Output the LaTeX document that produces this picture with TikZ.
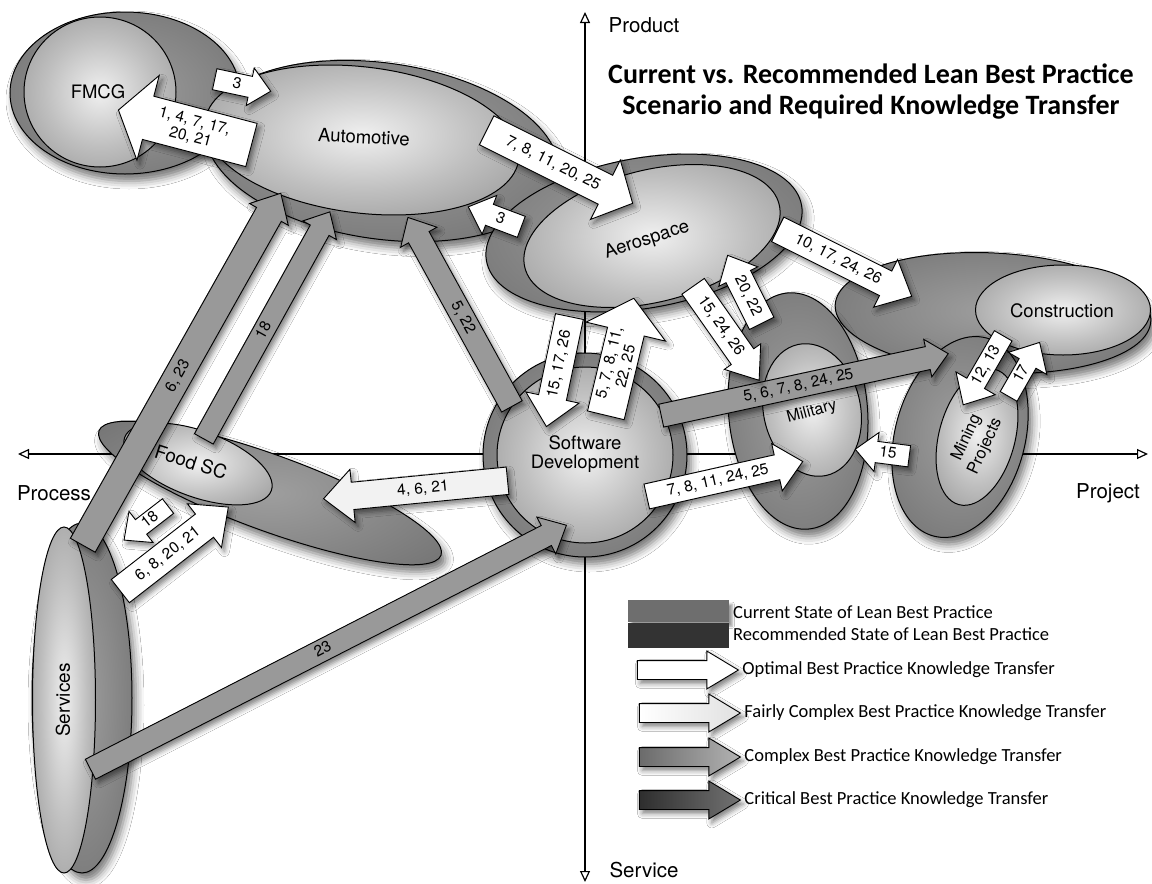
\documentclass[tikz,border=0pt]{standalone}
\usepackage{fontspec}
\setmainfont{TeX Gyre Heros}
\newfontfamily\calfont{Carlito}
\usepackage{tikz}
\usetikzlibrary{arrows.meta,shapes.arrows,shapes.geometric,shadows.blur,positioning,calc}

\pgfdeclareradialshading{curshade}{\pgfpoint{0bp}{0bp}}{color(0bp)=(black!6); color(18bp)=(black!25); color(50bp)=(black!55); color(100bp)=(black!55)}
\pgfdeclareradialshading{recshade}{\pgfpoint{0bp}{0bp}}{color(0bp)=(black!38); color(34bp)=(black!55); color(50bp)=(black!80); color(100bp)=(black!80)}

\tikzset{
  sector/.style={ellipse, draw, line width=1pt, inner sep=0pt},
  recstate/.style={sector, shading=recshade, blur shadow={shadow xshift=4pt, shadow yshift=-7pt, shadow blur radius=8pt, shadow opacity=55}},
  curstate/.style={sector, shading=curshade},
  sectorname/.style={font=\fontsize{18.5}{19}\selectfont, align=center},
  axisname/.style={font=\fontsize{20.5}{22}\selectfont},
  karrow/.style={single arrow, draw, line width=0.9pt, single arrow tip angle=85, single arrow head indent=0pt,
    inner xsep=3pt, text height=11pt, text depth=2.5pt, font=\fontsize{15.5}{16.5}\selectfont, align=center,
    blur shadow={shadow xshift=3pt, shadow yshift=-4pt, shadow blur radius=5pt, shadow opacity=50}},
  optimal/.style={karrow, fill=white},
  fairly/.style={karrow, fill=black!5},
  complex/.style={karrow, fill=black!40},
  critical/.style={karrow, fill=black!72},
  flip/.style={rotate=180, shape border rotate=180},
  twoline/.style={text height=, text depth=},
  legarrow/.style={minimum height=101, inner ysep=9pt, text height=0pt, text depth=0pt,
    single arrow head extend=9.5pt, single arrow tip angle=62},
  legtext/.style={font=\calfont\fontsize{18.5}{20}\selectfont, anchor=west, inner sep=0pt},
}

\newcommand\transfer[5][]{%
  \path let \p1=(#3), \p2=(#4), \n1={atan2(\y2-\y1,\x2-\x1)}, \n2={veclen(\x2-\x1,\y2-\y1)} in
    node[#1, rotate=\n1, minimum height=\n2] (#2) at ($(\p1)!.5!(\p2)$) {#5};}

\begin{document}
\begin{tikzpicture}[x=1pt, y=1pt]
  \path[use as bounding box, fill=white] (0,0) rectangle (1152,-884);

  \coordinate (w) at (18,-454);
  \coordinate (e) at (1148,-454);
  \coordinate (n) at (585,-12);
  \coordinate (s) at (585,-882);
  \draw[<->, >={Triangle[open, length=11pt, width=10pt]}, line width=1.2pt] (w) -- (e);
  \draw[<->, >={Triangle[open, length=11pt, width=10pt]}, line width=1.2pt] (n) -- (s);
  \node[axisname] (product) at (644,-25) {Product};
  \node[axisname] (service) at (644,-870) {Service};
  \node[axisname] (process) at (54,-493) {Process};
  \node[axisname] (project) at (1108,-493) {Project};

  \node[recstate, minimum width=230, minimum height=162] (fmcgr) at (125,-93) {};
  \node[curstate, minimum width=152, minimum height=150] (fmcgc) at (100,-92) {};
  \node[recstate, minimum width=100, minimum height=350] (servr) at (82,-698) {};
  \node[curstate, minimum width=63, minimum height=346] (servc) at (64,-700) {};
  \node[recstate, minimum width=364, minimum height=76, rotate=-20] (foodr) at (270,-493) {};
  \node[curstate, minimum width=156, minimum height=66, rotate=-20] (foodc) at (198,-464) {};
  \node[recstate, minimum width=356, minimum height=176, rotate=-8] (autor) at (382,-151) {};
  \node[curstate, minimum width=316, minimum height=146, rotate=-7] (autoc) at (362,-140) {};
  \node[recstate, minimum width=316, minimum height=120, rotate=-3] (consr) at (993,-313) {};
  \node[curstate, minimum width=175, minimum height=90] (consc) at (1063,-310) {};
  \node[recstate, minimum width=139, minimum height=237, rotate=5] (milr) at (798,-411) {};
  \node[curstate, minimum width=97, minimum height=134, rotate=12] (milc) at (812,-410) {};
  \node[recstate, minimum width=130, minimum height=205, rotate=-15] (miner) at (960,-437) {};
  \node[curstate, minimum width=76, minimum height=140, rotate=-15] (minec) at (977,-437) {};
  \node[recstate, minimum width=320, minimum height=150, rotate=10] (aeror) at (644,-233) {};
  \node[curstate, minimum width=262, minimum height=132, rotate=14] (aeroc) at (652,-236) {};
  \node[recstate, circle, minimum size=204] (softr) at (585,-455) {};
  \node[curstate, circle, minimum size=176] (softc) at (585,-455) {};

  \node[sectorname] (fmcg) at (98,-92) {FMCG};
  \node[sectorname, rotate=-3] (auto) at (364,-137) {Automotive};
  \node[sectorname, rotate=18] (aero) at (647,-240) {Aerospace};
  \node[sectorname] (cons) at (1062,-311) {Construction};
  \node[sectorname, font=\fontsize{16}{17}\selectfont, rotate=15] (mil) at (812,-412) {Military};
  \node[sectorname, font=\fontsize{16.5}{20.5}\selectfont, rotate=65] (mine) at (976,-442) {Mining\\Projects};
  \node[sectorname] (soft) at (585,-454) {Software\\Development};
  \node[sectorname, font=\fontsize{19}{20}\selectfont, rotate=-18] (food) at (191,-462) {Food SC};
  \node[sectorname, font=\fontsize{19}{20}\selectfont, rotate=90] (serv) at (63,-700) {Services};

  \coordinate (s1) at (209,-78);   \coordinate (e1) at (265,-90);
  \coordinate (s2) at (259,-147);  \coordinate (e2) at (126,-112);
  \coordinate (s3) at (480,-127);  \coordinate (e3) at (626,-200);
  \coordinate (s4) at (527,-229);  \coordinate (e4) at (474,-209);
  \coordinate (s5) at (771,-226);  \coordinate (e5) at (905,-293);
  \coordinate (s6) at (688,-279);  \coordinate (e6) at (754,-373);
  \coordinate (s7) at (765,-330);  \coordinate (e7) at (731,-262);
  \coordinate (s8) at (571,-309);  \coordinate (e8) at (548,-419);
  \coordinate (s9) at (604,-423);  \coordinate (e9) at (632,-306);
  \coordinate (s10) at (515,-412); \coordinate (e10) at (411,-223);
  \coordinate (s11) at (201,-444); \coordinate (e11) at (327,-217);
  \coordinate (s12) at (79,-552);  \coordinate (e12) at (277,-200);
  \coordinate (s13) at (515,-480); \coordinate (e13) at (331,-498);
  \coordinate (s14) at (172,-503); \coordinate (e14) at (128,-537);
  \coordinate (s15) at (114,-596); \coordinate (e15) at (222,-512);
  \coordinate (s16) at (85,-772);  \coordinate (e16) at (561,-528);
  \coordinate (s17) at (655,-417); \coordinate (e17) at (942,-355);
  \coordinate (s18) at (640,-498); \coordinate (e18) at (796,-463);
  \coordinate (s19) at (915,-457); \coordinate (e19) at (861,-450);
  \coordinate (s20) at (1006,-331); \coordinate (e20) at (966,-400);
  \coordinate (s21) at (1006,-401); \coordinate (e21) at (1037,-347);

  \transfer[complex, inner ysep=4.5pt, single arrow head extend=9pt, flip]{k10}{s10}{e10}{5, 22}
  \transfer[complex, inner ysep=3.5pt, single arrow head extend=8.5pt]{k11}{s11}{e11}{18}
  \transfer[complex, inner ysep=7pt, single arrow head extend=8pt]{k12}{s12}{e12}{6, 23}
  \transfer[complex, inner ysep=4pt, single arrow head extend=9.5pt]{k16}{s16}{e16}{23}
  \transfer[complex, inner ysep=4.5pt, single arrow head extend=7.5pt]{k17}{s17}{e17}{5, 6, 7, 8, 24, 25}
  \transfer[fairly, inner ysep=6.5pt, single arrow head extend=13pt, flip]{k13}{s13}{e13}{4, 6, 21}
  \transfer[optimal, inner ysep=3.5pt, single arrow head extend=8.5pt]{k1}{s1}{e1}{3}
  \transfer[optimal, twoline, inner ysep=7pt, single arrow head extend=21.5pt, single arrow tip angle=110, flip]{k2}{s2}{e2}{1, 4, 7, 17,\\20, 21}
  \transfer[optimal, inner ysep=9pt, single arrow head extend=17pt, single arrow tip angle=95]{k3}{s3}{e3}{7, 8, 11, 20, 25}
  \transfer[optimal, inner ysep=4pt, single arrow head extend=9.5pt, flip]{k4}{s4}{e4}{3}
  \transfer[optimal, inner ysep=6.5pt, single arrow head extend=13pt]{k5}{s5}{e5}{10, 17, 24, 26}
  \transfer[optimal, inner ysep=6.5pt, single arrow head extend=8.5pt, single arrow tip angle=75]{k6}{s6}{e6}{15, 24, 26}
  \transfer[optimal, inner ysep=6.5pt, single arrow head extend=8pt, flip]{k7}{s7}{e7}{20, 22}
  \transfer[optimal, inner ysep=7pt, single arrow head extend=13pt, flip]{k8}{s8}{e8}{15, 17, 26}
  \transfer[optimal, twoline, inner ysep=3.5pt, single arrow head extend=22pt, single arrow tip angle=100]{k9}{s9}{e9}{5, 7, 8, 11,\\22, 25}
  \transfer[optimal, inner ysep=2pt, single arrow head extend=10.5pt, flip]{k14}{s14}{e14}{18}
  \transfer[optimal, inner ysep=7.5pt, single arrow head extend=13pt]{k15}{s15}{e15}{6, 8, 20, 21}
  \transfer[optimal, inner ysep=5.5pt, single arrow head extend=11.5pt]{k18}{s18}{e18}{7, 8, 11, 24, 25}
  \transfer[optimal, inner ysep=3.5pt, single arrow head extend=9pt, flip]{k19}{s19}{e19}{15}
  \transfer[optimal, inner ysep=3pt, single arrow head extend=12.5pt, flip]{k20}{s20}{e20}{12, 13}
  \transfer[optimal, inner ysep=2.5pt, single arrow head extend=12.5pt]{k21}{s21}{e21}{17}

  \node[font=\calfont\bfseries\fontsize{28}{31}\selectfont, align=center] (title) at (871,-92)
    {Current vs. Recommended Lean Best Practice\\Scenario and Required Knowledge Transfer};

  \node[minimum width=101, minimum height=22, inner sep=0pt, anchor=north west, fill=black!57,
    blur shadow={shadow xshift=3pt, shadow yshift=-4pt}] (cur) at (628,-600) {};
  \node[minimum width=101, minimum height=25, inner sep=0pt, anchor=north west, fill=black!80] (rec) at (cur.south west) {};
  \node[legtext] (tcur) at (733,-612) {Current State of Lean Best Practice};
  \node[legtext] (trec) at (733,-634) {Recommended State of Lean Best Practice};

  \node[optimal, legarrow] (lopt) at (680,-670) {};
  \node[karrow, legarrow, left color=white, right color=black!12] (lfair) at (682,-713) {};
  \node[karrow, legarrow, left color=black!58, right color=black!30] (lcomp) at (682,-757) {};
  \node[karrow, legarrow, left color=black!82, right color=black!55] (lcrit) at (682,-800) {};
  \node[legtext, right=3pt of lopt] (topt) {Optimal Best Practice Knowledge Transfer};
  \node[legtext, right=3pt of lfair] (tfair) {Fairly Complex Best Practice Knowledge Transfer};
  \node[legtext, right=3pt of lcomp] (tcomp) {Complex Best Practice Knowledge Transfer};
  \node[legtext, right=3pt of lcrit] (tcrit) {Critical Best Practice Knowledge Transfer};
\end{tikzpicture}
\end{document}
